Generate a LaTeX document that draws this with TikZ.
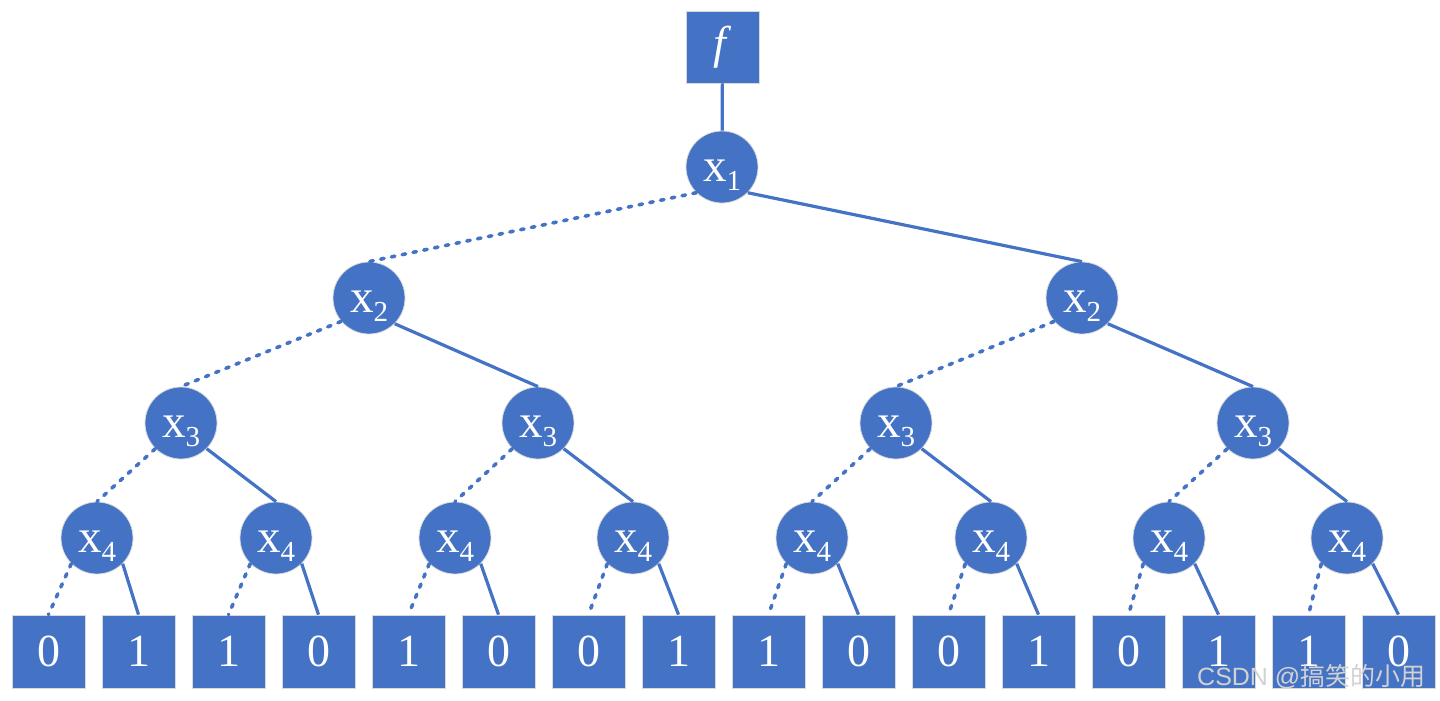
\documentclass[tikz,border=0pt]{standalone}
\usepackage{fontspec}
\setmainfont{Liberation Serif}
\newfontfamily\cjkfont{Noto Sans CJK SC}
\newfontfamily\wmfont{Liberation Sans}
\usetikzlibrary{shapes.geometric}
\definecolor{nodeblue}{HTML}{4472C4}
\definecolor{rimgray}{HTML}{D9D9D9}
\definecolor{wmgray}{HTML}{D2D2D2}
\newcommand\xsub[1]{x\raisebox{-0.2em}{\fontsize{29}{29}\selectfont #1}}
\tikzset{
  varnode/.style={circle, fill=nodeblue, draw=rimgray, line width=0.8pt, minimum size=72pt, inner sep=0pt},
  varlabel/.style={anchor=base, text=white, inner sep=0pt, font=\fontsize{47}{47}\selectfont},
  leafbox/.style={rectangle, fill=nodeblue, draw=rimgray, line width=0.8pt, minimum width=73pt, minimum height=73pt, inner sep=0pt, text=white, font=\fontsize{46}{46}\selectfont},
  lowedge/.style={draw=nodeblue, line width=3.6pt, line cap=round, dash pattern=on 3.5pt off 7.5pt},
  highedge/.style={draw=nodeblue, line width=3.2pt},
}
\begin{document}
\begin{tikzpicture}[x=1pt,y=-1pt]
\useasboundingbox (0,0) rectangle (1440,701);
% root box
\node[leafbox, minimum height=72pt] (f) at (722.5,47) {\raisebox{-0.1em}{\textit{f}}};
% variable nodes
\node[varnode] (x1) at (722,167) {};
\node[varnode] (x2a) at (369,298) {};
\node[varnode] (x2b) at (1082,298) {};
\node[varnode] (x3a) at (181,423) {};
\node[varnode] (x3b) at (538,423) {};
\node[varnode] (x3c) at (896,423) {};
\node[varnode] (x3d) at (1253,423) {};
\foreach \i/\xx in {a/97,b/276,c/455,d/633,e/812,f/991,g/1169,h/1347}{
  \node[varnode] (x4\i) at (\xx,538) {};
  \node[varlabel] (l4\i) at ([yshift=-14pt]x4\i.center) {\xsub{4}};
}
\node[varlabel] (l1) at ([yshift=-14pt]x1.center) {\xsub{1}};
\node[varlabel] (l2a) at ([yshift=-14pt]x2a.center) {\xsub{2}};
\node[varlabel] (l2b) at ([yshift=-14pt]x2b.center) {\xsub{2}};
\node[varlabel] (l3a) at ([yshift=-14pt]x3a.center) {\xsub{3}};
\node[varlabel] (l3b) at ([yshift=-14pt]x3b.center) {\xsub{3}};
\node[varlabel] (l3c) at ([yshift=-14pt]x3c.center) {\xsub{3}};
\node[varlabel] (l3d) at ([yshift=-14pt]x3d.center) {\xsub{3}};
% leaves
\foreach \k/\v in {0/0,1/1,2/1,3/0,4/1,5/0,6/0,7/1,8/1,9/0,10/0,11/1,12/0,13/1,14/1,15/0}{
  \node[leafbox] (t\k) at ({48.5+90*\k},651.5) {\v};
}
% edges
\draw[highedge] (f) -- (x1);
\draw[lowedge] (x1.225) -- (x2a.north);
\draw[highedge] (x1.-45) -- (x2b.north);
\draw[lowedge] (x2a.220) -- (x3a.north);
\draw[highedge] (x2a.-45) -- (x3b.north);
\draw[lowedge] (x2b.220) -- (x3c.north);
\draw[highedge] (x2b.-45) -- (x3d.north);
\draw[lowedge] (x3a.225) -- (x4a.north);
\draw[highedge] (x3a.-45) -- (x4b.north);
\draw[lowedge] (x3b.225) -- (x4c.north);
\draw[highedge] (x3b.-45) -- (x4d.north);
\draw[lowedge] (x3c.225) -- (x4e.north);
\draw[highedge] (x3c.-45) -- (x4f.north);
\draw[lowedge] (x3d.225) -- (x4g.north);
\draw[highedge] (x3d.-45) -- (x4h.north);
\draw[lowedge] (x4a.225) -- (t0.north);
\draw[highedge] (x4a.-45) -- (t1.north);
\draw[lowedge] (x4b.225) -- (t2.north);
\draw[highedge] (x4b.-45) -- (t3.north);
\draw[lowedge] (x4c.225) -- (t4.north);
\draw[highedge] (x4c.-45) -- (t5.north);
\draw[lowedge] (x4d.225) -- (t6.north);
\draw[highedge] (x4d.-45) -- (t7.north);
\draw[lowedge] (x4e.225) -- (t8.north);
\draw[highedge] (x4e.-45) -- (t9.north);
\draw[lowedge] (x4f.225) -- (t10.north);
\draw[highedge] (x4f.-45) -- (t11.north);
\draw[lowedge] (x4g.225) -- (t12.north);
\draw[highedge] (x4g.-45) -- (t13.north);
\draw[lowedge] (x4h.225) -- (t14.north);
\draw[highedge] (x4h.-45) -- (t15.north);
% watermark
\node[anchor=base west, inner sep=0pt, text=wmgray, font=\fontsize{25}{25}\selectfont] (wm) at (1197,685) {\wmfont CSDN @\cjkfont 搞笑的小用};
\end{tikzpicture}
\end{document}
